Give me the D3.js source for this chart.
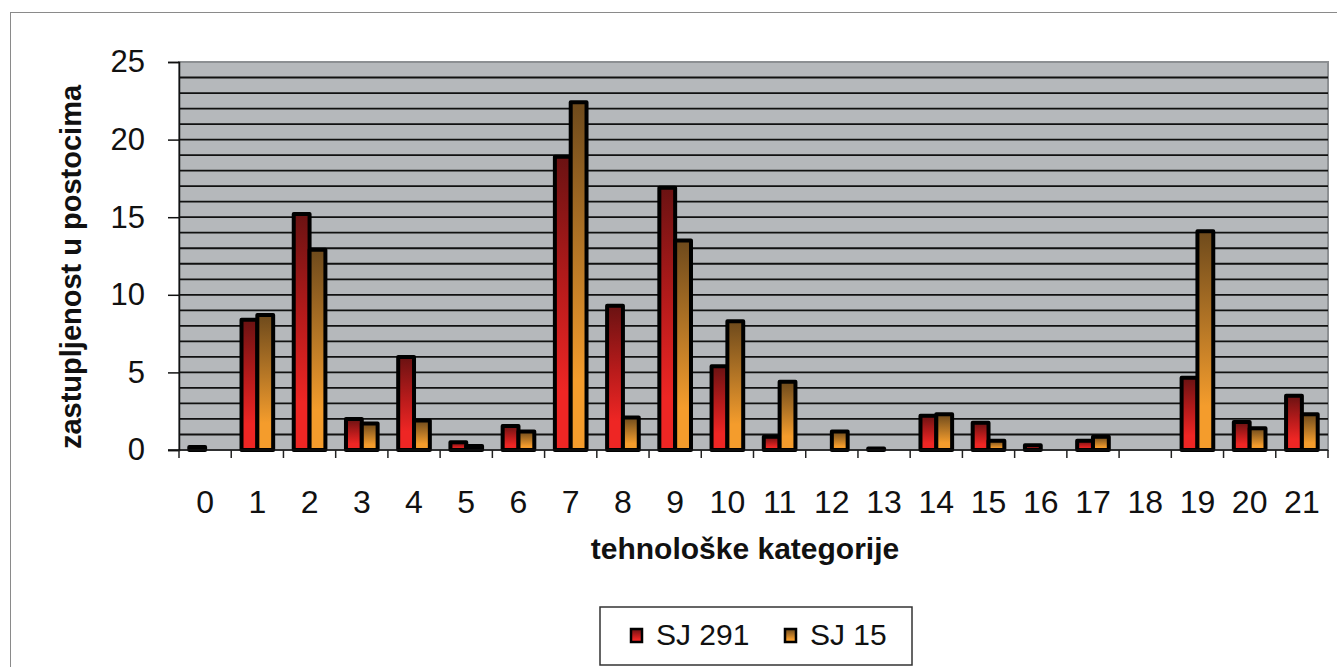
<!DOCTYPE html>
<html>
<head>
<meta charset="utf-8">
<script src="https://cdn.jsdelivr.net/npm/d3@7"></script>
<style>
  body { margin: 0; background: #fff; }
  svg { display: block; font-family: "Liberation Sans", Arial, Helvetica, sans-serif; }
</style>
</head>
<body>
<svg id="chart" width="1337" height="667"></svg>
<script>
//------------------------------------------------------------------------------
// Data
//------------------------------------------------------------------------------
var categories = ["0","1","2","3","4","5","6","7","8","9","10","11","12","13","14","15","16","17","18","19","20","21"]
var seriesNames = ["SJ 291","SJ 15"]
var sj291 = [0.2,8.4,15.2,2.0,6.0,0.5,1.55,18.9,9.3,16.9,5.4,0.85,0,0.1,2.2,1.75,0.3,0.6,0,4.65,1.8,3.5]
var sj15  = [0,8.7,12.9,1.7,1.9,0.25,1.2,22.4,2.1,13.5,8.3,4.4,1.2,0,2.3,0.6,0,0.85,0,14.1,1.4,2.3]
var yTicks = [0,5,10,15,20,25]

//------------------------------------------------------------------------------
// Layout
//------------------------------------------------------------------------------
var svg = d3.select("#chart"),
    plot = {left: 179, right: 1328, top: 62, bottom: 450}

var rows = categories.map(function(c,i){
  return {cat: c, values: [sj291[i], sj15[i]]}
})

var x0 = d3.scaleBand().domain(categories).range([plot.left, plot.right]),
    x1 = d3.scaleBand().domain([0,1]).range([0, x0.bandwidth()]).paddingOuter(0.65),
    y = d3.scaleLinear().domain([0,25]).range([plot.bottom, plot.top])

// outer frame
svg.append("rect")
  .attr("x",10.5).attr("y",12.5)
  .attr("width",1340).attr("height",700)
  .attr("fill","none").attr("stroke","#8a8a8a").attr("stroke-width",1)

// gradients
var defs = svg.append("defs"),
    grads = [
      ["#6a1212","#b81b1b","#ee2624"],
      ["#6e4a1c","#b87826","#f49c2c"]
    ]
grads.forEach(function(g,i){
  var lg = defs.append("linearGradient")
    .attr("id","grad"+i).attr("x1",0).attr("y1",0).attr("x2",0).attr("y2",1)
  lg.append("stop").attr("offset","0%").attr("stop-color",g[0])
  lg.append("stop").attr("offset","45%").attr("stop-color",g[1])
  lg.append("stop").attr("offset","80%").attr("stop-color",g[2])
  lg.append("stop").attr("offset","100%").attr("stop-color",g[2])
})

// plot background
svg.append("rect")
  .attr("x",plot.left).attr("y",plot.top)
  .attr("width",plot.right-plot.left).attr("height",plot.bottom-plot.top)
  .attr("fill","#b5b8bb")
  .attr("stroke","#8c8f92").attr("stroke-width",2)

// gridlines every unit
svg.append("g").selectAll("line")
  .data(d3.range(1,25))
  .enter().append("line")
    .attr("x1",plot.left).attr("x2",plot.right)
    .attr("y1",function(d){ return y(d) }).attr("y2",function(d){ return y(d) })
    .attr("stroke","#111").attr("stroke-width",1.8)

//------------------------------------------------------------------------------
// Bars
//------------------------------------------------------------------------------
var groups = svg.append("g").selectAll("g")
  .data(rows)
  .enter().append("g")
    .attr("transform",function(d){ return "translate("+x0(d.cat)+",0)" })

groups.selectAll("rect")
  .data(function(d){ return d.values.map(function(v,i){ return {i:i, v:v} }) })
  .enter().filter(function(d){ return d.v > 0 }).append("rect")
    .attr("x",function(d){ return x1(d.i) })
    .attr("width",x1.bandwidth())
    .attr("y",function(d){ return y(d.v) })
    .attr("height",function(d){ return plot.bottom - y(d.v) })
    .attr("fill",function(d){ return "url(#grad"+d.i+")" })
    .attr("stroke","#000").attr("stroke-width",4)
    .attr("stroke-linejoin","round")

//------------------------------------------------------------------------------
// Axes
//------------------------------------------------------------------------------
var yAxis = svg.append("g")
  .attr("transform","translate("+plot.left+",0)")
  .call(d3.axisLeft(y).tickValues(yTicks).tickSize(11).tickPadding(23))
yAxis.select(".domain").attr("stroke","#111").attr("stroke-width",1.5)
yAxis.selectAll(".tick line").attr("stroke","#111").attr("stroke-width",1.5)
yAxis.selectAll(".tick text")
  .attr("font-size",31).attr("fill","#111")
  .attr("font-family","'Liberation Sans', Arial, sans-serif")

var xAxis = svg.append("g")
  .attr("transform","translate(0,"+plot.bottom+")")
xAxis.append("line")
  .attr("x1",plot.left-11).attr("x2",plot.right)
  .attr("stroke","#111").attr("stroke-width",1.5)
xAxis.selectAll("line.tk")
  .data(categories.concat(["end"]))
  .enter().append("line")
    .attr("class","tk")
    .attr("x1",function(d,i){ return plot.left + i*x0.step() })
    .attr("x2",function(d,i){ return plot.left + i*x0.step() })
    .attr("y1",0).attr("y2",8)
    .attr("stroke","#222").attr("stroke-width",1.5)
xAxis.selectAll("text")
  .data(categories)
  .enter().append("text")
    .attr("x",function(d){ return x0(d) + x0.bandwidth()/2 })
    .attr("y",63)
    .attr("text-anchor","middle")
    .attr("font-size",32).attr("fill","#111")
    .text(function(d){ return d })

// axis titles
svg.append("text")
  .attr("transform","translate(81,267) rotate(-90)")
  .attr("text-anchor","middle")
  .attr("font-size",29).attr("font-weight","bold").attr("fill","#111")
  .text("zastupljenost u postocima")

svg.append("text")
  .attr("x",745).attr("y",559)
  .attr("text-anchor","middle")
  .attr("font-size",30).attr("font-weight","bold").attr("fill","#111")
  .text("tehnološke kategorije")

//------------------------------------------------------------------------------
// Legend
//------------------------------------------------------------------------------
var legend = svg.append("g")
legend.append("rect")
  .attr("x",600).attr("y",607).attr("width",312).attr("height",58)
  .attr("fill","#fff").attr("stroke","#333").attr("stroke-width",1.5)

var items = legend.selectAll("g.item")
  .data(seriesNames)
  .enter().append("g")
    .attr("class","item")
    .attr("transform",function(d,i){ return "translate("+(631+i*154)+",629)" })
items.append("rect")
  .attr("width",11).attr("height",13)
  .attr("fill",function(d,i){ return "url(#grad"+i+")" })
  .attr("stroke","#000").attr("stroke-width",2.5)
items.append("text")
  .attr("x",25).attr("y",16)
  .attr("font-size",30).attr("fill","#111")
  .text(function(d){ return d })
</script>
</body>
</html>
